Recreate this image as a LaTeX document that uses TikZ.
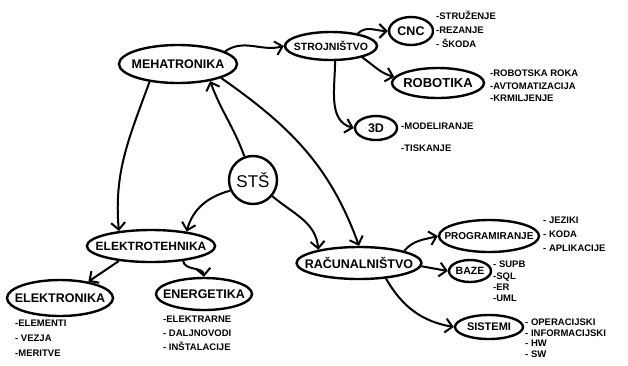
\documentclass[tikz,border=0pt]{standalone}
\usepackage{fontspec}
\setmainfont{Liberation Sans}
\usetikzlibrary{shapes.geometric, arrows.meta}

\tikzset{
    topic/.style={draw, ellipse, line width=2.4pt, inner ysep=0pt, inner xsep=-10pt, font=\bfseries\fontsize{12.5}{14}\selectfont},
    items/.style={anchor=north west, align=left, inner sep=0pt, font=\bfseries\fontsize{9.5}{14}\selectfont},
    link/.style={line width=2pt, -{Straight Barb[length=7pt, width=14pt]}}
}

\begin{document}
\begin{tikzpicture}[x=1pt, y=-1pt]
    \useasboundingbox (0,0) rectangle (628,365);

    \node[topic, minimum width=118, minimum height=38] (meh) at (178,64) {MEHATRONIKA};
    \node[topic, minimum width=92, minimum height=28, font=\bfseries\fontsize{10.5}{12}\selectfont] (stroj) at (331,46) {STROJNIŠTVO};
    \node[topic, minimum width=44, minimum height=28] (cnc) at (411,31) {CNC};
    \node[topic, minimum width=92, minimum height=30, font=\bfseries\fontsize{13}{15}\selectfont] (robot) at (438,83) {ROBOTIKA};
    \node[topic, minimum width=42, minimum height=24] (threeD) at (376,128) {3D};
    \node[draw, circle, line width=2.4pt, minimum size=48, inner sep=0pt, font=\fontsize{17}{19}\selectfont] (sts) at (253,180) {STŠ};
    \node[topic, minimum width=126, minimum height=32, font=\bfseries\fontsize{12}{14}\selectfont] (elteh) at (151,246) {ELEKTROTEHNIKA};
    \node[topic, minimum width=106, minimum height=36] (elon) at (60,298) {ELEKTRONIKA};
    \node[topic, minimum width=96, minimum height=32] (energ) at (204,294) {ENERGETIKA};
    \node[topic, minimum width=124, minimum height=32] (rac) at (359,263) {RAČUNALNIŠTVO};
    \node[topic, minimum width=100, minimum height=32, font=\bfseries\fontsize{10}{12}\selectfont] (prog) at (489,236) {PROGRAMIRANJE};
    \node[topic, minimum width=42, minimum height=22, font=\bfseries\fontsize{10.5}{12}\selectfont] (baze) at (470,271) {BAZE};
    \node[topic, minimum width=68, minimum height=24, font=\bfseries\fontsize{11}{13}\selectfont] (sist) at (489,327) {SISTEMI};

    % lists
    \node[items] (cncList) at (436,11) {-STRUŽENJE\\-REZANJE\\- ŠKODA};
    \node[items, font=\bfseries\fontsize{9.5}{12.5}\selectfont] (robList) at (490,70) {-ROBOTSKA ROKA\\-AVTOMATIZACIJA\\-KRMILJENJE};
    \node[items, font=\bfseries\fontsize{9.5}{22}\selectfont] (dList) at (401,123) {-MODELIRANJE\\-TISKANJE};
    \node[items, font=\bfseries\fontsize{9.5}{15}\selectfont] (elonList) at (15,320) {-ELEMENTI\\- VEZJA\\-MERITVE};
    \node[items] (energList) at (163,316) {-ELEKTRARNE\\- DALJNOVODI\\- INŠTALACIJE};
    \node[items] (progList) at (543,217) {- JEZIKI\\- KODA\\- APLIKACIJE};
    \node[items, font=\bfseries\fontsize{9.5}{11.3}\selectfont] (bazeList) at (493,261) {- SUPB\\-SQL\\-ER\\-UML};
    \node[items, font=\bfseries\fontsize{9.5}{10.5}\selectfont] (sistList) at (525,319) {- OPERACIJSKI\\- INFORMACIJSKI\\- HW\\- SW};

    % connectors
    \draw[link] (meh.15) to[out=35, in=195] (stroj.west);
    \draw[link] (meh.-18) to[out=-35, in=110] (rac.north);
    \draw[link] (sts.110) to[out=110, in=-70] (meh.-28);
    \draw[link] (meh.212) to[out=-110, in=95] (elteh.155);
    \draw[link] (sts.205) to[out=195, in=75] (elteh.22);
    \draw[link] (sts.-40) to[out=-40, in=95] (rac.162);
    \draw[link] (stroj.25) to[out=45, in=180] (cnc.west);
    \draw[link] (stroj.-20) to[out=-35, in=165] (robot.172);
    \draw[link] (stroj.-75) to[out=-90, in=165] (threeD.west);
    \draw[link] (elteh.205) -- (elon.30);
    \draw[link] (elteh.-25) to[out=-80, in=95] (energ.north);
    \draw[link] (rac.15) to[out=50, in=195] (prog.west);
    \draw[link] (rac.-3) -- (baze.west);
    \draw[link] (rac.-30) to[out=-60, in=170] (sist.west);
\end{tikzpicture}
\end{document}
